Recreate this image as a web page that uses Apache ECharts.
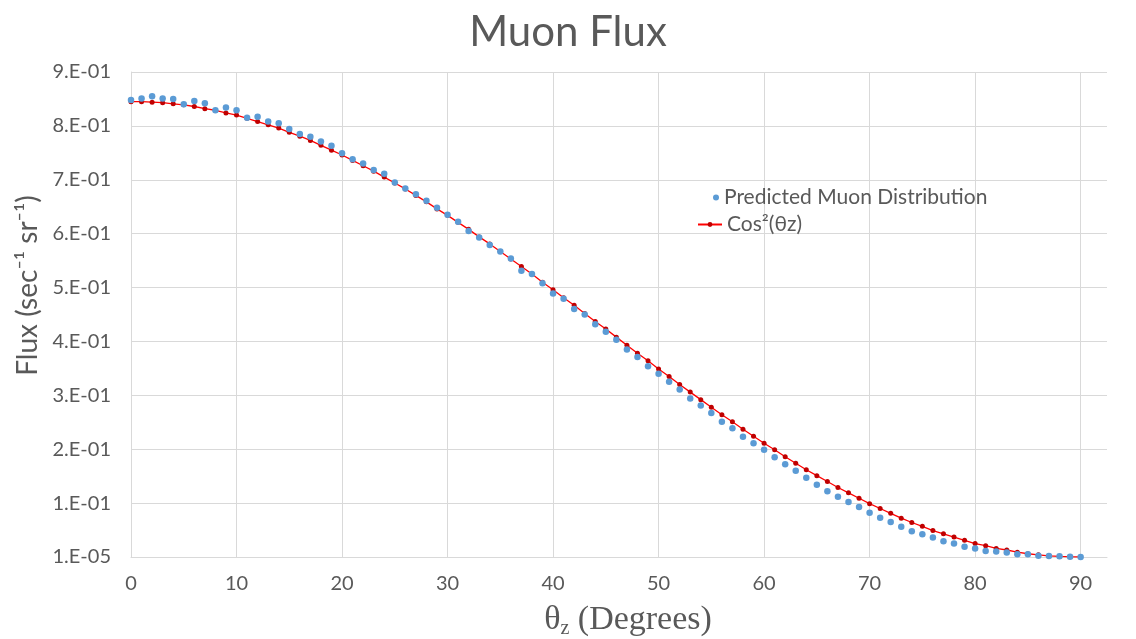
<!DOCTYPE html>
<html>
<head>
<meta charset="utf-8">
<script src="https://cdn.jsdelivr.net/npm/echarts@6/dist/echarts.min.js"></script>
<style>html,body{margin:0;padding:0;background:#fff}#c{width:1136px;height:639px}</style>
</head>
<body>
<div id="c"></div>
<script>
// Zenith angle (degrees)
const angles = [0,1,2,3,4,5,6,7,8,9,10,11,12,13,14,15,16,17,18,19,20,21,22,23,24,25,26,27,28,29,30,31,32,33,34,35,36,37,38,39,40,41,42,43,44,45,46,47,48,49,50,51,52,53,54,55,56,57,58,59,60,61,62,63,64,65,66,67,68,69,70,71,72,73,74,75,76,77,78,79,80,81,82,83,84,85,86,87,88,89,90];
// Predicted Muon Distribution (blue dots)
const predicted = [0.848,0.851,0.855,0.851,0.850,0.840,0.846,0.842,0.829,0.834,0.829,0.815,0.817,0.808,0.805,0.794,0.785,0.780,0.771,0.763,0.749,0.738,0.730,0.718,0.711,0.695,0.684,0.673,0.661,0.648,0.635,0.622,0.605,0.593,0.579,0.567,0.554,0.531,0.525,0.508,0.489,0.479,0.460,0.450,0.432,0.418,0.403,0.385,0.371,0.354,0.340,0.325,0.311,0.294,0.281,0.267,0.251,0.239,0.223,0.211,0.199,0.185,0.172,0.160,0.147,0.134,0.122,0.112,0.102,0.093,0.082,0.073,0.065,0.056,0.048,0.042,0.036,0.029,0.025,0.019,0.016,0.011,0.010,0.0085,0.005,0.005,0.0025,0.002,0.0015,0.0005,0.0002];
// Cos²(θz) curve (red)
const cosSquared = [0.845,0.845,0.844,0.843,0.841,0.839,0.836,0.832,0.829,0.824,0.820,0.814,0.808,0.802,0.796,0.788,0.781,0.773,0.764,0.755,0.746,0.736,0.726,0.716,0.705,0.694,0.683,0.671,0.659,0.646,0.634,0.621,0.608,0.594,0.581,0.567,0.553,0.539,0.525,0.510,0.496,0.481,0.467,0.452,0.437,0.423,0.408,0.393,0.378,0.364,0.349,0.335,0.320,0.306,0.292,0.278,0.264,0.251,0.237,0.224,0.211,0.199,0.186,0.174,0.162,0.151,0.140,0.129,0.119,0.109,0.099,0.090,0.081,0.072,0.064,0.057,0.049,0.043,0.037,0.031,0.025,0.021,0.016,0.013,0.009,0.006,0.004,0.002,0.001,0.0003,0];
// Y tick labels
const yTickLabels = ['1.E-05','1.E-01','2.E-01','3.E-01','4.E-01','5.E-01','6.E-01','7.E-01','8.E-01','9.E-01'];
const seriesNames = ['Predicted Muon Distribution','Cos\u00B2(\u03B8z)'];

const FONT = 'Lato';
const GREY = '#595959';
const chart = echarts.init(document.getElementById('c'), null, {renderer: 'canvas'});
chart.setOption({
  backgroundColor: '#ffffff',
  animation: false,
  title: {
    text: 'Muon Flux', left: 'center', top: 6,
    textStyle: {fontFamily: FONT, fontSize: 42, fontWeight: 'normal', color: GREY},
    padding: [5, 5, 5, 15]
  },
  legend: [
    {
      data: [{name: seriesNames[0], icon: 'circle'}],
      orient: 'vertical', left: 708, top: 182, itemWidth: 6, itemHeight: 6,
      textStyle: {fontFamily: FONT, fontSize: 21, color: GREY}
    },
    {
      data: [{name: seriesNames[1]}],
      orient: 'vertical', left: 692, top: 209, itemWidth: 24, itemHeight: 6,
      textStyle: {fontFamily: FONT, fontSize: 21, color: GREY}
    }
  ],
  grid: {left: 131, right: 29, top: 72, bottom: 82, containLabel: false, outerBoundsMode: 'none'},
  xAxis: {
    type: 'value', min: 0, max: 92.5, interval: 10,
    name: '{a|\u03B8}{s|z}{a| (Degrees)}', nameLocation: 'middle', nameGap: 44,
    nameTextStyle: {
      padding: [0, 0, 0, 18],
      rich: {
        a: {fontFamily: 'Liberation Serif', fontSize: 34, color: GREY, lineHeight: 38},
        s: {fontFamily: 'Liberation Serif', fontSize: 20, color: GREY, lineHeight: 20, verticalAlign: 'bottom'}
      }
    },
    axisLine: {show: true, lineStyle: {color: '#D9D9D9', width: 1}},
    axisTick: {show: false},
    axisLabel: {fontFamily: FONT, fontSize: 20, color: GREY, margin: 17, showMaxLabel: false},
    splitLine: {show: true, showMaxLine: false, lineStyle: {color: '#D9D9D9', width: 1}}
  },
  yAxis: {
    type: 'value', min: 0, max: 0.9, interval: 0.1,
    name: 'Flux (sec\u207B\u00B9 sr\u207B\u00B9)', nameLocation: 'middle', nameGap: 86, nameRotate: 90,
    nameTextStyle: {fontFamily: FONT, fontSize: 28, color: GREY, padding: [0, 0, 0, 58]},
    axisLine: {show: true, lineStyle: {color: '#D9D9D9', width: 1}},
    axisTick: {show: false},
    axisLabel: {
      fontFamily: FONT, fontSize: 20, color: GREY, margin: 20,
      formatter: function (v) { return yTickLabels[Math.round(v * 10)]; }
    },
    splitLine: {show: true, lineStyle: {color: '#D9D9D9', width: 1}}
  },
  series: [
    {
      name: seriesNames[1], type: 'line', z: 2,
      data: angles.map((a, i) => [a, cosSquared[i]]),
      symbol: 'circle', symbolSize: 5, showSymbol: true,
      lineStyle: {color: '#FF0000', width: 1.3},
      itemStyle: {color: '#C00000'}
    },
    {
      name: seriesNames[0], type: 'scatter', z: 3,
      data: angles.map((a, i) => [a, predicted[i]]),
      symbol: 'circle', symbolSize: 6.5,
      itemStyle: {color: '#5B9BD5', opacity: 1}
    }
  ]
});
</script>
</body>
</html>
